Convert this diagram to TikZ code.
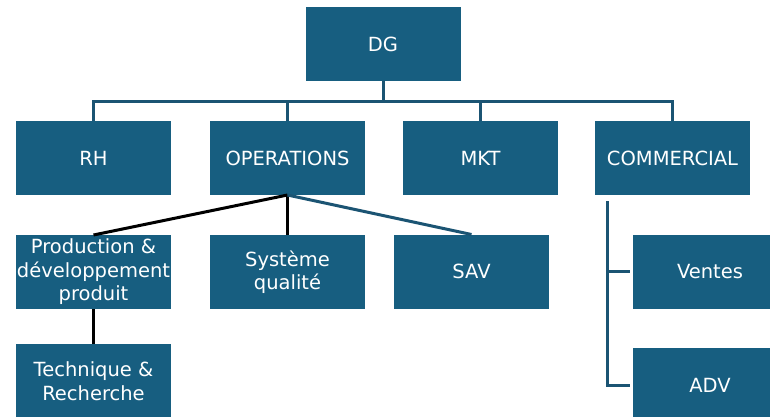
\documentclass[tikz,border=0pt]{standalone}
\usepackage{fontspec}
\setmainfont{DejaVu Sans}
\usepackage{xcolor}
\usetikzlibrary{positioning}
\definecolor{unitblue}{HTML}{175E80}
\definecolor{linkblue}{HTML}{1B5473}
\tikzset{
	unit/.style = {
		draw=none, rectangle, fill=unitblue, text=white, align=center,
		minimum width=155pt, minimum height=74pt, inner sep=0pt, outer sep=0pt,
		font=\fontsize{19.5}{23.5}\selectfont
	}
}
\tikzset{
	link/.style = {
		draw=linkblue, line width=3pt
	}
}
\tikzset{
	blacklink/.style = {
		link, draw=black
	}
}

\begin{document}
\begin{tikzpicture}[x=1pt, y=-1pt]
	\useasboundingbox[fill=white] (0,0) rectangle (770,417);
	% direction
	\node[unit] (dg) at (383,44) {DG};
	% services
	\node[unit] (rh) at (93.5,158) {RH};
	\node[unit, right=39pt of rh] (ops) {OPERATIONS};
	\node[unit, right=38pt of ops] (mkt) {MKT};
	\node[unit, right=37pt of mkt] (comm) {COMMERCIAL};
	% operations
	\node[unit, below=40pt of rh] (prod) {Production \&\\d\'eveloppement\\produit};
	\node[unit, below=40pt of ops] (qual) {Syst\`eme\\qualit\'e};
	\node[unit] (sav) at (471.5,271.5) {SAV};
	\node[unit, below=35pt of prod] (tech) {Technique \&\\Recherche};
	% commercial
	\node[unit] (ventes) at (710,271.5) {Ventes};
	\node[unit] (adv) at (710,385) {ADV};

	\coordinate (bus) at ([yshift=-21pt]dg.south);
	\draw[link] (dg.south) -- (bus);
	\draw[link] (bus) -| (rh.north);
	\draw[link] (bus) -| (ops.north);
	\draw[link] (bus) -| (mkt.north);
	\draw[link] (bus) -| (comm.north);

	\draw[blacklink] (ops.south) -- (prod.north);
	\draw[blacklink] (ops.south) -- (qual.north);
	\draw[link] (ops.south) -- (sav.north);
	\draw[blacklink] (prod.south) -- (tech.north);

	\coordinate (commbar) at ([xshift=12pt, yshift=-6pt]comm.south west);
	\draw[link, shorten >=3pt] (commbar) |- (adv.west);
	\draw[link, shorten >=3pt] (commbar |- ventes.west) -- (ventes.west);
\end{tikzpicture}
\end{document}
